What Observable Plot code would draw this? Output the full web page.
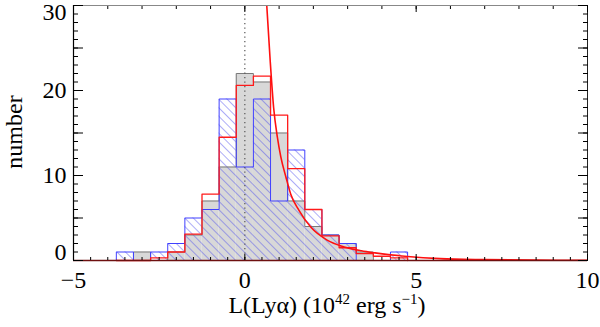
<!DOCTYPE html>
<html><head><meta charset="utf-8">
<script src="https://cdn.jsdelivr.net/npm/d3@7"></script>
<script src="https://cdn.jsdelivr.net/npm/@observablehq/plot@0.6"></script>
<style>body{margin:0;background:#fff} svg{display:block}</style>
</head><body><div id="chart"></div>
<script>
// histogram bins (centres, width 0.5)
const binCenters = [-3.5,-3.0,-2.5,-2.0,-1.5,-1.0,-0.5,0.0,0.5,1.0,1.5,2.0,2.5,3.0,3.5,4.0,4.5];
const binWidth = 0.5;
const grayCounts = [0,1,0,1,3,7,11,22,21,15,7,4,3,2,1,0,0];
const blueCounts = [1,0,1,2,5,6,19,11,19,7,13,6,3,2,0,0,1];
const redCounts  = [0,0,0.3,1.0,3.1,7.8,14.5,20.6,21.7,17.1,10.8,6.0,2.9,1.5,0.8,0.5,0.3];
// fitted curve
const fitX = [0.60,0.64,0.74,0.84,0.95,1.05,1.20,1.34,1.58,1.93,2.40,2.90,3.40,3.80,4.75,5.70,7.00,8.50,10.0];
const fitY = [33.0,30.0,23.5,18.0,14.5,12.2,9.8,7.8,5.9,3.9,2.4,1.6,1.15,0.9,0.47,0.22,0.10,0.04,0.02];
const xTickLabels = [-5,0,5,10];
const yTickLabels = [0,10,20,30];
const xDomain = [-5,10];
const yDomain = [0,30];

const bins = binCenters.map((c,i)=>({x1:c-binWidth/2, x2:c+binWidth/2, gray:grayCounts[i], blue:blueCounts[i], red:redCounts[i]}));
function steps(vals){
  const pts=[{x:binCenters[0]-binWidth/2,y:0}];
  binCenters.forEach((c,i)=>{pts.push({x:c-binWidth/2,y:vals[i]},{x:c+binWidth/2,y:vals[i]});});
  pts.push({x:binCenters[binCenters.length-1]+binWidth/2,y:0});
  return pts;
}
const fit = fitX.map((x,i)=>({x, y:fitY[i]}));
const fmt = d => d < 0 ? "\u2212" + (-d) : String(d);
const font = "'Liberation Serif','Times New Roman',Times,serif";
const fs = 24;
const xMinor1 = d3.range(-5, 10.001, 1);
const xMinorB = d3.range(-5, 10.001, 0.5);
const yMinor = d3.range(0, 30.001, 1);
const yMajor = d3.range(0, 30.001, 5);
const none = () => "";

const plot = Plot.plot({
  width: 600, height: 327,
  marginLeft: 73, marginRight: 13, marginTop: 5, marginBottom: 67,
  x: {domain: xDomain},
  y: {domain: yDomain},
  style: {fontFamily: font, background: "white", overflow: "visible"},
  marks: [
    Plot.rectY(bins, {x1:"x1", x2:"x2", y:"gray", fill:"#d8d8d8"}),
    Plot.rectY(bins, {x1:"x1", x2:"x2", y:"blue", fill:"url(#hatch)"}),
    Plot.line(steps(grayCounts), {x:"x", y:"y", stroke:"#7a7a7a", strokeWidth:1}),
    Plot.line(steps(blueCounts), {x:"x", y:"y", stroke:"#4040ff", strokeWidth:1}),
    Plot.line(steps(redCounts), {x:"x", y:"y", stroke:"#ff1a1a", strokeWidth:1.3}),
    Plot.ruleX([0], {stroke:"#555", strokeWidth:1.2, strokeDasharray:"1.2,3.3"}),
    Plot.line(fit, {x:"x", y:"y", stroke:"#ff1010", strokeWidth:1.6, curve:"monotone-x", clip:true}),
    // frame
    Plot.ruleY([yDomain[1]], {stroke:"#888", strokeWidth:1}),
    Plot.ruleX([xDomain[1]], {stroke:"#222", strokeWidth:1}),
    Plot.ruleX([xDomain[0]], {stroke:"#000", strokeWidth:1.2}),
    Plot.ruleY([yDomain[0]], {stroke:"#6e1010", strokeWidth:1.6}),
    // inward ticks
    Plot.axisX({anchor:"bottom", ticks:xMinorB, tickSize:-3, tickFormat:none, label:null, stroke:"#000"}),
    Plot.axisX({anchor:"top", ticks:xMinor1, tickSize:-3, tickFormat:none, label:null}),
    Plot.axisX({anchor:"top", ticks:xTickLabels, tickSize:-6, tickFormat:none, label:null}),
    Plot.axisX({anchor:"bottom", ticks:xTickLabels, tickSize:-6, tickFormat:none, label:null}),
    Plot.axisY({anchor:"left", ticks:yMinor, tickSize:-5, tickFormat:none, label:null}),
    Plot.axisY({anchor:"left", ticks:yMajor, tickSize:-10, tickFormat:none, label:null}),
    Plot.axisY({anchor:"right", ticks:yMinor, tickSize:-5, tickFormat:none, label:null}),
    Plot.axisY({anchor:"right", ticks:yMajor, tickSize:-10, tickFormat:none, label:null}),
    // labels
    Plot.axisX({anchor:"bottom", ticks:xTickLabels, tickSize:0, tickPadding:10, tickFormat:fmt, label:null, fontSize:fs, fill:"#000"}),
    Plot.axisY({anchor:"left", ticks:yTickLabels.slice(1,3), tickSize:0, tickPadding:7, tickFormat:fmt, label:null, fontSize:fs, fill:"#000"}),
    Plot.axisY({anchor:"left", ticks:[yTickLabels[0]], tickSize:0, tickPadding:7, dy:-8, tickFormat:fmt, label:null, fontSize:fs, fill:"#000"}),
    Plot.axisY({anchor:"left", ticks:[yTickLabels[3]], tickSize:0, tickPadding:7, dy:7, tickFormat:fmt, label:null, fontSize:fs, fill:"#000"})
  ]
});

// hatch pattern
const svg = d3.select(plot);
const defs = svg.insert("defs", ":first-child");
const pat = defs.append("pattern").attr("id","hatch").attr("patternUnits","userSpaceOnUse")
  .attr("width",6).attr("height",6).attr("patternTransform","rotate(-45)");
pat.append("line").attr("x1",0).attr("y1",0).attr("x2",0).attr("y2",6)
  .attr("stroke","#4a4aee").attr("stroke-width",0.9);

// axis titles
const xt = svg.append("text").attr("x", 327).attr("y", 313).attr("text-anchor","middle")
  .attr("font-family", font).attr("font-size", fs).attr("fill","#000");
xt.append("tspan").text("L(Ly\u03b1) (10");
xt.append("tspan").attr("dy",-9).attr("font-size",15).text("42");
xt.append("tspan").attr("dy",9).text(" erg s");
xt.append("tspan").attr("dy",-9).attr("font-size",15).text("\u22121");
xt.append("tspan").attr("dy",9).text(")");
svg.append("text").attr("transform","translate(22,132) rotate(-90)").attr("text-anchor","middle")
  .attr("font-family", font).attr("font-size", fs).attr("fill","#000").text("number");

document.getElementById("chart").appendChild(plot);
</script>
</body></html>
